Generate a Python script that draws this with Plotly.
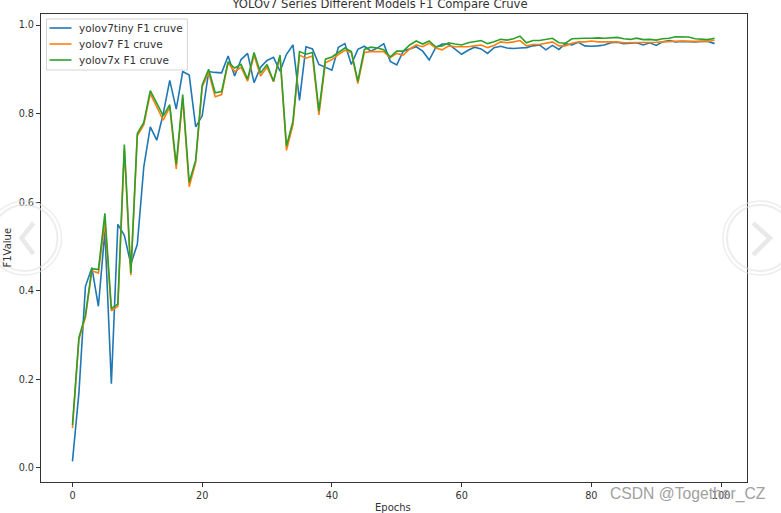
import plotly.graph_objects as go

epochs = list(range(100))

yolov7tiny = [
    0.015, 0.17, 0.41, 0.452, 0.365, 0.535, 0.19, 0.55, 0.525, 0.46,
    0.505, 0.68, 0.77, 0.74, 0.80, 0.875, 0.81, 0.895, 0.887, 0.77,
    0.795, 0.895, 0.893, 0.892, 0.93, 0.885, 0.922, 0.936, 0.87, 0.905,
    0.92, 0.927, 0.896, 0.934, 0.955, 0.83, 0.951, 0.946, 0.911, 0.904,
    0.898, 0.95, 0.958, 0.911, 0.945, 0.952, 0.941, 0.948, 0.958, 0.918,
    0.91, 0.941, 0.946, 0.951, 0.941, 0.921, 0.949, 0.957, 0.957, 0.946,
    0.934, 0.943, 0.950, 0.946, 0.936, 0.949, 0.952, 0.948, 0.947, 0.948,
    0.949, 0.953, 0.955, 0.944, 0.954, 0.945, 0.958, 0.955, 0.961, 0.953,
    0.952, 0.953, 0.955, 0.960, 0.961, 0.958, 0.959, 0.960, 0.955, 0.960,
    0.954, 0.962, 0.965, 0.962, 0.963, 0.962, 0.962, 0.963, 0.963, 0.958,
]
yolov7 = [
    0.09, 0.29, 0.34, 0.445, 0.44, 0.555, 0.355, 0.365, 0.72, 0.435,
    0.75, 0.775, 0.845, 0.815, 0.785, 0.815, 0.675, 0.835, 0.635, 0.69,
    0.86, 0.893, 0.838, 0.843, 0.915, 0.895, 0.905, 0.873, 0.932, 0.885,
    0.905, 0.872, 0.93, 0.717, 0.775, 0.932, 0.925, 0.93, 0.797, 0.915,
    0.922, 0.933, 0.943, 0.938, 0.868, 0.938, 0.94, 0.94, 0.94, 0.926,
    0.936, 0.932, 0.946, 0.955, 0.951, 0.959, 0.948, 0.944, 0.953, 0.951,
    0.951, 0.951, 0.953, 0.955, 0.949, 0.954, 0.962, 0.960, 0.962, 0.965,
    0.953, 0.956, 0.956, 0.959, 0.962, 0.953, 0.953, 0.959, 0.962, 0.962,
    0.964, 0.962, 0.962, 0.961, 0.962, 0.960, 0.960, 0.961, 0.960, 0.961,
    0.961, 0.962, 0.963, 0.963, 0.964, 0.963, 0.963, 0.964, 0.963, 0.966,
]
yolov7x = [
    0.097, 0.295, 0.345, 0.45, 0.448, 0.575, 0.36, 0.37, 0.73, 0.44,
    0.755, 0.78, 0.852, 0.823, 0.795, 0.82, 0.685, 0.843, 0.645, 0.695,
    0.865, 0.90, 0.847, 0.85, 0.917, 0.903, 0.911, 0.878, 0.938, 0.892,
    0.911, 0.873, 0.932, 0.727, 0.783, 0.94, 0.934, 0.938, 0.806, 0.923,
    0.928, 0.938, 0.948, 0.94, 0.873, 0.945, 0.95, 0.948, 0.944, 0.928,
    0.941, 0.941, 0.955, 0.964, 0.957, 0.964, 0.951, 0.953, 0.96, 0.957,
    0.955, 0.96, 0.963, 0.965, 0.958, 0.962, 0.968, 0.966, 0.969, 0.975,
    0.960, 0.965, 0.965, 0.968, 0.970, 0.960, 0.959, 0.969, 0.970, 0.970,
    0.970, 0.971, 0.970, 0.9705, 0.972, 0.969, 0.9675, 0.9705, 0.967, 0.9675,
    0.966, 0.969, 0.970, 0.9735, 0.973, 0.973, 0.969, 0.968, 0.967, 0.970,
]

series_names = ["yolov7tiny F1 cruve", "yolov7 F1 cruve", "yolov7x F1 cruve"]
series_colors = ["#1f77b4", "#ff7f0e", "#2ca02c"]
series_values = [yolov7tiny, yolov7, yolov7x]
x_ticks = [0, 20, 40, 60, 80, 100]
y_ticks = [0.0, 0.2, 0.4, 0.6, 0.8, 1.0]
y_tick_labels = ["0.0", "0.2", "0.4", "0.6", "0.8", "1.0"]

W, H = 781, 513
L, R, T, B = 40.5, 747, 14, 482
FONT = "DejaVu Sans"
TEXT = "#333333"


def px(x):
    return (x - L) / (R - L)


def py(y):
    return 1 - (y - T) / (B - T)


def ring(cx, cy, r, color, width):
    return dict(type="circle", xref="paper", yref="paper",
                x0=px(cx - r), x1=px(cx + r), y0=py(cy + r), y1=py(cy - r),
                line=dict(color=color, width=width), fillcolor="rgba(255,255,255,0)")


def chevron(points):
    d = "M " + " L ".join(f"{px(a):.5f},{py(b):.5f}" for a, b in points)
    return dict(type="path", xref="paper", yref="paper", path=d,
                line=dict(color="rgba(225,225,225,0.75)", width=4.5))


fig = go.Figure()
for name, color, values in zip(series_names, series_colors, series_values):
    fig.add_trace(go.Scatter(x=epochs, y=values, mode="lines", name=name,
                             line=dict(color=color, width=1.6)))

# Legend drawn by hand: the reference rows are tighter than Plotly's minimum row height.
legend_rows = [28, 44, 60]
legend_shapes = [dict(type="rect", xref="paper", yref="paper",
                      x0=px(46), x1=px(187), y0=py(70), y1=py(19),
                      line=dict(color="#d5d5d5", width=1), fillcolor="rgba(255,255,255,0.8)")]
legend_texts = []
for name, color, row in zip(series_names, series_colors, legend_rows):
    legend_shapes.append(dict(type="line", xref="paper", yref="paper",
                              x0=px(49), x1=px(71), y0=py(row), y1=py(row),
                              line=dict(color=color, width=1.6)))
    legend_texts.append(dict(text=name, xref="paper", yref="paper", x=px(77), y=py(row),
                             xanchor="left", yanchor="middle", showarrow=False,
                             font=dict(size=10.5, color=TEXT)))

fig.update_layout(
    width=W, height=H,
    autosize=False,
    showlegend=False,
    margin=dict(l=L, r=W - R, t=T, b=H - B, pad=0, autoexpand=False),
    paper_bgcolor="white", plot_bgcolor="white",
    font=dict(family=FONT, size=9.7, color=TEXT),
    title=dict(text="YOLOv7 Series Different Models F1 Compare Cruve",
               x=380 / W, xanchor="center", xref="container",
               y=1 - 4 / H, yanchor="middle", yref="container",
               font=dict(size=11.6, color=TEXT)),
    shapes=legend_shapes + [
        ring(24, 238, 37, "rgba(225,225,225,0.6)", 1.5),
        ring(24, 238, 33, "rgba(225,225,225,0.6)", 2),
        chevron([(33, 223), (21, 238), (33, 254)]),
        ring(760, 238, 37, "rgba(225,225,225,0.6)", 1.5),
        ring(760, 238, 33, "rgba(225,225,225,0.6)", 2),
        chevron([(753, 223), (770, 238), (753, 255)]),
    ],
    annotations=legend_texts + [
        dict(text="CSDN @Together_CZ", xref="paper", yref="paper",
             x=px(688), y=py(494.5), xanchor="center", yanchor="middle",
             showarrow=False, font=dict(family="Liberation Sans", size=15.7, color="#a0a0a0")),
        dict(text="Epochs", xref="paper", yref="paper", x=px(393), y=py(507),
             xanchor="center", yanchor="middle", showarrow=False,
             font=dict(size=10, color=TEXT)),
        dict(text="F1Value", xref="paper", yref="paper", x=px(6), y=py(248), textangle=-90,
             xanchor="center", yanchor="middle", showarrow=False,
             font=dict(size=10, color=TEXT)),
    ],
)
fig.update_xaxes(
    range=[-4.85, 104.0], tickvals=x_ticks, ticks="outside", ticklen=4, tickwidth=1,
    tickcolor=TEXT, showgrid=False, zeroline=False, showline=True, mirror=True,
    linecolor="#333333", linewidth=1, automargin=False,
)
fig.update_yaxes(
    range=[-0.0317, 1.0249], tickvals=y_ticks, ticktext=y_tick_labels, ticks="outside", ticklen=4,
    tickwidth=1, tickcolor=TEXT, showgrid=False, zeroline=False, showline=True, mirror=True,
    linecolor="#333333", linewidth=1, automargin=False,
)
fig.write_html("out.html", config={"displayModeBar": False},
               post_script="document.body.style.margin='0';")
